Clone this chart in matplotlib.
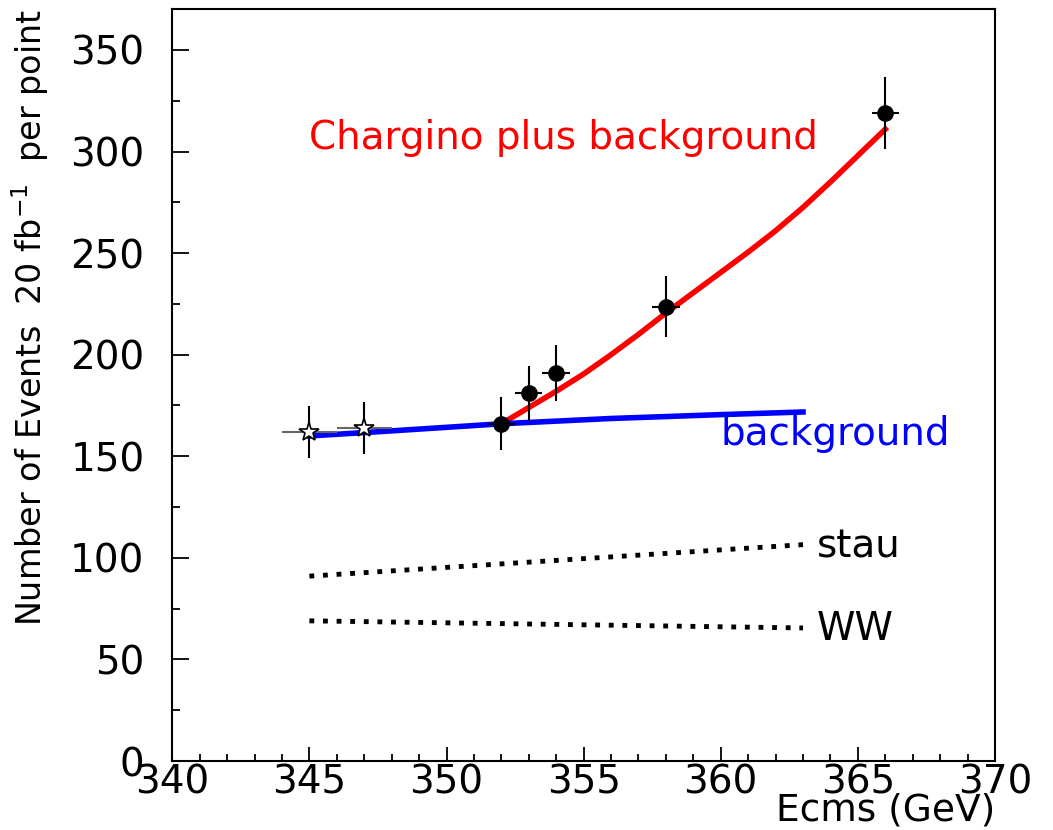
import matplotlib
matplotlib.use('Agg')
import matplotlib.pyplot as plt
from matplotlib.ticker import MultipleLocator

# measured points (filled circles)
ecms = [352, 353, 354, 358, 366]
events = [166, 181, 191, 223.5, 319]
events_err = [13, 13.5, 13.7, 15, 17.8]
ecms_err = [0.5, 0.5, 0.5, 0.5, 0.5]

# background-only points (open stars)
star_ecms = [345, 347]
star_events = [162, 164]
star_err = [12.7, 12.8]
star_ecms_err = [1, 1]

# chargino plus background curve
sig_x = [352, 353, 354, 355, 356, 357, 358, 359, 360, 361, 362, 363, 364, 365, 366]
sig_y = [166, 174, 182, 190.5, 200, 210, 220.5, 230.5, 240.5, 250.5, 261, 272.5, 285, 298, 311]

# background curve
bkg_x = [345, 348, 352, 356, 360, 363]
bkg_y = [160, 162.5, 166, 168.6, 170.5, 171.8]

# stau and WW components
stau_x = [345, 363]
stau_y = [91, 106.5]
ww_x = [345, 363]
ww_y = [69, 65.5]

plt.rcParams['font.family'] = 'DejaVu Sans'
fig = plt.figure(figsize=(10.53, 8.30), dpi=100)
ax = fig.add_axes([0.1636, 0.0831, 0.9449 - 0.1636, 0.9888 - 0.0831])

ax.plot(sig_x, sig_y, color='#ff0000', lw=4, zorder=3)
ax.plot(bkg_x, bkg_y, color='#0000ff', lw=4, zorder=3)
ax.plot(stau_x, stau_y, color='black', lw=3.5, linestyle=(0, (1, 1.8)), zorder=2)
ax.plot(ww_x, ww_y, color='black', lw=3.5, linestyle=(0, (1, 1.8)), zorder=2)

ax.errorbar(ecms, events, yerr=events_err, xerr=ecms_err, fmt='o', color='black',
            ms=11, ecolor='black', elinewidth=1.5, capsize=0, zorder=5)
ax.errorbar(star_ecms, star_events, xerr=star_ecms_err, fmt='none',
            ecolor='#666666', elinewidth=1.5, capsize=0, zorder=4)
ax.errorbar(star_ecms, star_events, yerr=star_err, fmt='*', mfc='white', mec='black',
            mew=1.2, ms=15, ecolor='black', elinewidth=1.5, capsize=0, zorder=5)

ax.text(345.0, 301, 'Chargino plus background', color='#ff0000', fontsize=28)
ax.text(360.0, 155.5, 'background', color='#0000ff', fontsize=28)
ax.text(363.5, 100, 'stau', color='black', fontsize=28)
ax.text(363.5, 59.5, 'WW', color='black', fontsize=28)

ax.set_xlim(340, 370)
ax.set_ylim(0, 370)
ax.xaxis.set_major_locator(MultipleLocator(5))
ax.xaxis.set_minor_locator(MultipleLocator(1))
ax.yaxis.set_major_locator(MultipleLocator(50))
ax.yaxis.set_minor_locator(MultipleLocator(25))
ax.tick_params(which='both', direction='in', top=False, right=False, labelsize=28, width=1.3)
ax.tick_params(axis='x', which='major', length=10, pad=2)
ax.tick_params(axis='x', which='minor', length=5)
ax.tick_params(axis='y', which='major', length=12, pad=20)
ax.tick_params(axis='y', which='minor', length=6)
for s in ax.spines.values():
    s.set_linewidth(1.5)

ax.set_xlabel('Ecms (GeV)', fontsize=27, loc='right', labelpad=-7)
ax.set_ylabel(r'Number of Events  20 fb$^{-1}$  per point', fontsize=24, loc='top', labelpad=14)

fig.savefig('out.png', dpi=100)
